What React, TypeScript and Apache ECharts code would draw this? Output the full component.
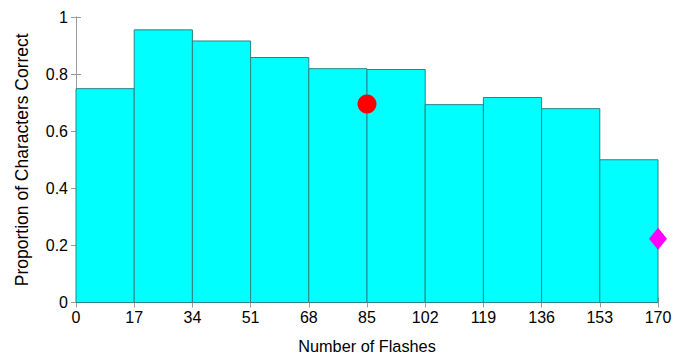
import React, { useEffect, useRef } from "react";
import * as echarts from "echarts";

const binStarts = [0, 17, 34, 51, 68, 85, 102, 119, 136, 153];
const binWidth = 17;
const proportions = [0.749, 0.955, 0.916, 0.858, 0.819, 0.816, 0.693, 0.718, 0.679, 0.5];
const circlePoint = [[85, 0.695]];
const diamondPoint = [[170, 0.223]];

const FONT = "'Liberation Sans', Arial, sans-serif";

export default function App() {
  const ref = useRef<HTMLDivElement>(null);
  useEffect(() => {
    if (!ref.current) return;
    const chart = echarts.init(ref.current, null, { renderer: "svg" });
    const barData = binStarts.map((s, i) => [s, s + binWidth, proportions[i]]);
    const axisLine = { show: true, lineStyle: { color: "#9a9a9a", width: 1 } };
    const tick = { show: true, inside: true, length: 5, lineStyle: { color: "#9a9a9a" } };
    chart.setOption({
      animation: false,
      backgroundColor: "#ffffff",
      grid: {
        left: 76,
        right: 28,
        top: 17,
        bottom: 52.5,
        show: false,
        containLabel: false,
        outerBoundsMode: "none",
      },
      xAxis: [
        {
          type: "value",
          min: 0,
          max: 170,
          interval: 17,
          name: "Number of Flashes",
          nameLocation: "middle",
          nameGap: 35.5,
          nameTextStyle: { fontFamily: FONT, fontSize: 16.3, color: "#000" },
          axisLine,
          axisTick: tick,
          splitLine: { show: false },
          axisLabel: { fontFamily: FONT, fontSize: 16, color: "#000", margin: 7 },
        },
        {
          type: "value",
          position: "top",
          min: 0,
          max: 170,
          interval: 17,
          axisLine,
          axisTick: tick,
          splitLine: { show: false },
          axisLabel: { show: false },
        },
      ],
      yAxis: [
        {
          type: "value",
          min: 0,
          max: 1,
          interval: 0.2,
          name: "Proportion of Characters Correct",
          nameLocation: "middle",
          nameGap: 45,
          nameTextStyle: { fontFamily: FONT, fontSize: 17.5, color: "#000" },
          axisLine,
          axisTick: tick,
          splitLine: { show: false },
          axisLabel: { fontFamily: FONT, fontSize: 16, color: "#000", margin: 8 },
        },
        {
          type: "value",
          position: "right",
          min: 0,
          max: 1,
          interval: 0.2,
          axisLine,
          axisTick: tick,
          splitLine: { show: false },
          axisLabel: { show: false },
        },
      ],
      series: [
        {
          type: "custom",
          data: barData,
          encode: { x: [0, 1], y: 2 },
          renderItem: (params: any, api: any) => {
            const p0 = api.coord([api.value(0), 0]);
            const p1 = api.coord([api.value(1), api.value(2)]);
            return {
              type: "rect",
              shape: { x: p0[0], y: p1[1], width: p1[0] - p0[0], height: p0[1] - p1[1] },
              style: { fill: "#00ffff", stroke: "#2a8585", lineWidth: 1 },
            };
          },
          z: 1,
        },
        {
          type: "scatter",
          data: circlePoint,
          symbol: "circle",
          symbolSize: 19,
          itemStyle: { color: "#ff0000", opacity: 1 },
          z: 5,
        },
        {
          type: "scatter",
          data: diamondPoint,
          symbol: "diamond",
          symbolSize: [18, 22],
          itemStyle: { color: "#ff00ff", opacity: 1 },
          z: 5,
        },
      ],
    });
    return () => chart.dispose();
  }, []);
  return <div ref={ref} style={{ width: 686, height: 355, position: "absolute", left: 0, top: 0 }} />;
}
